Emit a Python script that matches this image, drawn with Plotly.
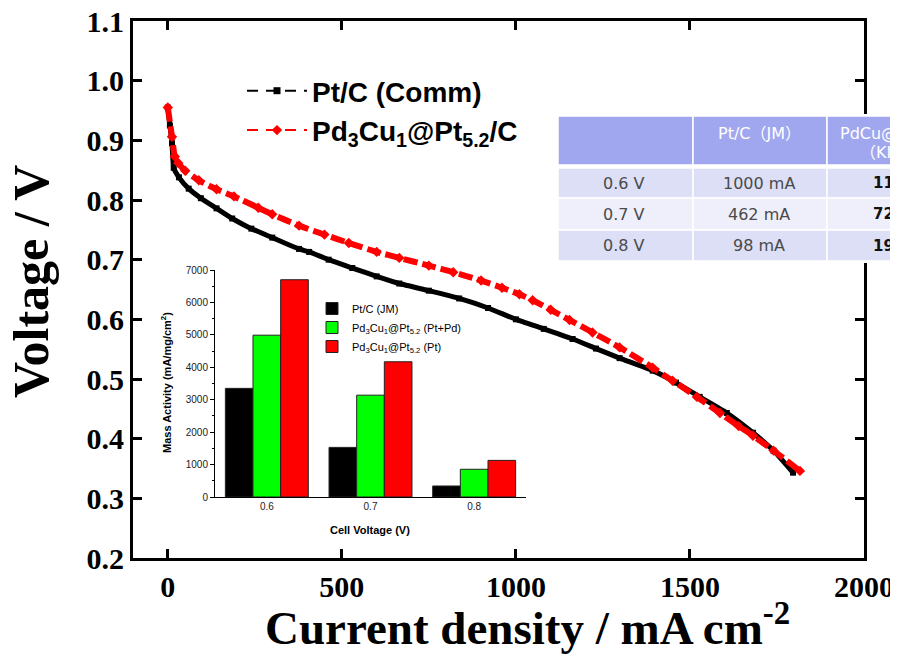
import plotly.graph_objects as go

# ---------------- data: polarization curves ----------------
pt_current = [0, 6, 12, 17, 32, 60, 95, 140, 185, 240, 300, 377, 406, 462, 530,
              600, 665, 750, 837, 920, 1000, 1080, 1163, 1230, 1298, 1393, 1460,
              1528, 1606, 1681, 1740, 1796]
pt_voltage = [0.955, 0.925, 0.895, 0.854, 0.838, 0.819, 0.803, 0.786, 0.769, 0.752,
              0.737, 0.718, 0.713, 0.700, 0.686, 0.672, 0.660, 0.648, 0.635, 0.619,
              0.600, 0.584, 0.567, 0.551, 0.535, 0.514, 0.494, 0.470, 0.443, 0.410,
              0.380, 0.343]

pdcu_current = [0, 12, 20, 30, 50, 89, 140, 190, 260, 300, 377, 450, 520, 600, 665,
                750, 820, 900, 960, 1010, 1048, 1100, 1154, 1220, 1298, 1393, 1450,
                1520, 1586, 1640, 1681, 1740, 1816]
pdcu_voltage = [0.955, 0.906, 0.873, 0.862, 0.849, 0.833, 0.818, 0.806, 0.787, 0.776,
                0.757, 0.742, 0.728, 0.713, 0.703, 0.690, 0.679, 0.665, 0.653, 0.642,
                0.632, 0.616, 0.599, 0.578, 0.553, 0.519, 0.497, 0.470, 0.443, 0.421,
                0.405, 0.380, 0.346]

voltage_ticks = [0.2, 0.3, 0.4, 0.5, 0.6, 0.7, 0.8, 0.9, 1.0, 1.1]
current_ticks = [0, 500, 1000, 1500, 2000]

# ---------------- data: inset bar chart ----------------
cell_voltage = ["0.6", "0.7", "0.8"]
ma_ptc_jm = [3350, 1530, 340]
ma_pdcu_ptpd = [4990, 3140, 855]
ma_pdcu_pt = [6700, 4170, 1130]
ma_ticks = [0, 1000, 2000, 3000, 4000, 5000, 6000, 7000]
ma_minor_ticks = [500, 1500, 2500, 3500, 4500, 5500, 6500]

# ---------------- data: table ----------------
table_col_head = ["Pt/C\uff08JM\uff09"]
table_col3_head = ["PdCu@Pt/C", "\uff08KIST\uff09"]
table_rows = ["0.6 V", "0.7 V", "0.8 V"]
table_ptc = ["1000 mA", "462 mA", "98 mA"]
table_pdcu = ["1150 mA", "720 mA", "190 mA"]

# ---------------- geometry helpers ----------------
# the page body adds an 8 px offset, so the figure is 8 px smaller than the window
OFF = 8
W, H = 898 - OFF, 654 - OFF
L, R, T, B = 133, 864, 21, 558   # plot frame in window pixels


def px(x):
    return (x - L) / (R - L)


def py(y):
    return 1 - (y - T) / (B - T)


SERIF = "Liberation Serif"
SANS = "Liberation Sans"
TBL = "DejaVu Sans, Noto Sans CJK KR"

fig = go.Figure()

# main curves
fig.add_trace(go.Scatter(
    x=pt_current, y=pt_voltage, mode="lines+markers", showlegend=False,
    line=dict(color="black", width=5, shape="spline", smoothing=0.5),
    marker=dict(symbol="square", size=6, color="black"),
    xaxis="x", yaxis="y"))
fig.add_trace(go.Scatter(
    x=pdcu_current, y=pdcu_voltage, mode="lines+markers", showlegend=False,
    line=dict(color="#ff0000", width=6, dash="14px,5px", shape="spline", smoothing=0.5),
    marker=dict(symbol="diamond", size=8, color="#ff0000"),
    xaxis="x", yaxis="y"))

# legend entries for main curves
fig.add_trace(go.Scatter(
    x=[None], y=[None], mode="lines+markers", name="Pt/C (Comm)",
    line=dict(color="black", width=2, dash="11px,8px"),
    marker=dict(symbol="square", size=7, color="black"), legend="legend"))
fig.add_trace(go.Scatter(
    x=[None], y=[None], mode="lines+markers",
    name="Pd<sub>3</sub>Cu<sub>1</sub>@Pt<sub>5.2</sub>/C",
    line=dict(color="#ff0000", width=2, dash="11px,8px"),
    marker=dict(symbol="diamond", size=8, color="#ff0000"), legend="legend"))

# inset bars
bar_line = dict(color="#222222", width=1)
fig.add_trace(go.Bar(x=cell_voltage, y=ma_ptc_jm, name="Pt/C (JM)",
                     marker=dict(color="#000000", line=bar_line),
                     xaxis="x2", yaxis="y2", legend="legend2"))
fig.add_trace(go.Bar(x=cell_voltage, y=ma_pdcu_ptpd,
                     name="Pd<sub>3</sub>Cu<sub>1</sub>@Pt<sub>5.2</sub> (Pt+Pd)",
                     marker=dict(color="#00ff00", line=bar_line),
                     xaxis="x2", yaxis="y2", legend="legend2"))
fig.add_trace(go.Bar(x=cell_voltage, y=ma_pdcu_pt,
                     name="Pd<sub>3</sub>Cu<sub>1</sub>@Pt<sub>5.2</sub> (Pt)",
                     marker=dict(color="#ff0000", line=bar_line),
                     xaxis="x2", yaxis="y2", legend="legend2"))

shapes = []
annotations = []


def note(text, x, y, font, xanchor="center", yanchor="middle", angle=0):
    annotations.append(dict(text=text, x=px(x), y=py(y), xref="paper", yref="paper",
                            showarrow=False, xanchor=xanchor, yanchor=yanchor,
                            textangle=angle, font=font))


# table drawn as shapes + text
col_edges = [558, 693, 827, 990]
row_edges = [(116, 165), (168, 198), (198, 230), (230, 261)]
row_fill = ["#a1a7ee", "#dcdff6", "#eeeffb", "#dcdff6"]
shapes.append(dict(type="rect", xref="paper", yref="paper", layer="above",
                   x0=px(556), x1=px(990), y0=py(263), y1=py(114),
                   fillcolor="white", line=dict(width=0)))
for (y0, y1), fc in zip(row_edges, row_fill):
    for c0, c1 in zip(col_edges[:-1], col_edges[1:]):
        shapes.append(dict(type="rect", xref="paper", yref="paper", layer="above",
                           x0=px(c0), x1=px(c1), y0=py(y1), y1=py(y0),
                           fillcolor=fc, line=dict(color="white", width=1.5)))

head_font = dict(family=TBL, size=16, color="white")
tbl_font = dict(family=TBL, size=16, color="#4a4a4a")
note(table_col_head[0], 759, 133, head_font)
note(table_col3_head[0], 838, 133, head_font, xanchor="left")
note(table_col3_head[1], 858, 153, head_font, xanchor="left")
row_centers = [183, 214, 246]
for lab, v1, v2, yc in zip(table_rows, table_ptc, table_pdcu, row_centers):
    note(lab, 624, yc, tbl_font)
    note(v1, 759, yc, tbl_font)
    note("<b>" + v2 + "</b>", 871, yc, dict(family=TBL, size=15, color="#111111"),
         xanchor="left")

# axis titles
note("Current density / mA cm<sup>-2</sup>", 527, 624,
     dict(family=SERIF, size=47, color="black", weight="bold"))
note("Voltage / V", 31, 282,
     dict(family=SERIF, size=50, color="black", weight="bold"), angle=-90)

# inset titles
note("Cell Voltage (V)", 370, 530, dict(family=SANS, size=11, color="black", weight="bold"))
note("Mass Activity (mA/mg/cm<sup>2</sup>)", 166, 383,
     dict(family=SANS, size=11, color="black", weight="bold"), angle=-90)

fig.update_layout(
    width=W, height=H,
    margin=dict(l=L - OFF, r=898 - R, t=T - OFF, b=654 - B, pad=0, autoexpand=False),
    paper_bgcolor="white", plot_bgcolor="rgba(0,0,0,0)",
    barmode="group", bargap=0.2, bargroupgap=0,
    shapes=shapes, annotations=annotations,
    xaxis=dict(range=[-100, 2000], tickvals=current_ticks,
               ticks="inside", ticklen=9, tickwidth=3, tickcolor="black",
               showline=True, linewidth=3, linecolor="black", mirror="ticks",
               showgrid=False, zeroline=False, automargin=False,
               ticklabeloverflow="allow",
               tickfont=dict(family=SERIF, size=30, color="black", weight="bold")),
    yaxis=dict(range=[0.2, 1.1], tickvals=voltage_ticks, tickformat=".1f",
               ticks="inside", ticklen=9, tickwidth=3, tickcolor="black",
               showline=True, linewidth=3, linecolor="black", mirror="ticks",
               showgrid=False, zeroline=False, automargin=False,
               ticklabeloverflow="allow",
               tickfont=dict(family=SERIF, size=30, color="black", weight="bold")),
    xaxis2=dict(domain=[px(215), px(526)], anchor="y2", type="category",
                range=[-0.5, 2.5], showline=True, linewidth=1, linecolor="black",
                ticks="", showgrid=False, zeroline=False, automargin=False,
                tickfont=dict(family=SANS, size=10, color="#222222")),
    yaxis2=dict(domain=[py(497), py(270)], anchor="x2", range=[0, 7000],
                tickvals=ma_ticks,
                ticks="outside", ticklen=4, tickwidth=1, tickcolor="black",
                minor=dict(tickvals=ma_minor_ticks,
                           ticks="outside", ticklen=2, tickcolor="black"),
                showline=True, linewidth=1, linecolor="black",
                showgrid=False, zeroline=False, automargin=False,
                tickfont=dict(family=SANS, size=10, color="#222222")),
    legend=dict(x=px(242), y=py(66), xanchor="left", yanchor="top",
                bgcolor="rgba(0,0,0,0)", itemwidth=60, tracegroupgap=0,
                font=dict(family=SANS, size=28, color="black", weight="bold")),
    legend2=dict(x=px(312), y=py(294), xanchor="left", yanchor="top",
                 bgcolor="rgba(0,0,0,0)", tracegroupgap=0,
                 font=dict(family=SANS, size=11, color="black")),
)

fig.write_html("out.html")
